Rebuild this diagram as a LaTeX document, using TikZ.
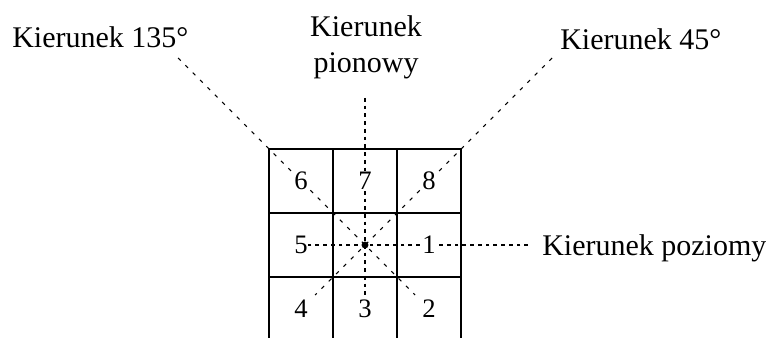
\documentclass[tikz,border=0pt]{standalone}
\usepackage{fontspec}
\setmainfont{Liberation Serif}
\usetikzlibrary{positioning}
\tikzset{
  % napisy i cyfry
  kier/.style={font=\fontsize{22.5}{27}\selectfont,inner sep=0pt,anchor=base west},
  cyfra/.style={font=\fontsize{20}{24}\selectfont,fill=white,inner sep=0.6pt},
  % linie
  kratka/.style={draw=black,line width=1pt},
  przer/.style={draw=black,line width=0.8pt,dash pattern=on 2.8pt off 3pt},
  skos/.style={draw=black,line width=0.8pt,dash pattern=on 2.8pt off 5pt},
}

\begin{document}
\begin{tikzpicture}[x=0.75pt,y=-0.75pt]
  \useasboundingbox (0,0) rectangle (766,338);
  \clip (0,0) rectangle (766,338);
  \coordinate (s) at (365,245);
  \node[kier] (k135) at (12,48) {Kierunek 135°};
  \node[kier] (k45) at (560,50) {Kierunek 45°};
  \node[kier,anchor=base,align=center] (kpion) at (366,73) {Kierunek\\pionowy};
  \node[kier] (kpoz) at (542,255) {Kierunek poziomy};
  \coordinate (g135) at (178,58);   \coordinate (d135) at (415,295);
  \coordinate (g45) at (552,58);    \coordinate (d45) at (315,295);
  \coordinate (gpion) at (365,98);  \coordinate (dpion) at (365,297);
  \coordinate (gpoz) at (528,245);  \coordinate (dpoz) at (303,245);
  \draw[skos] (g135) -- (s) -- (d135);
  \draw[skos] (g45) -- (s) -- (d45);
  \draw[przer] (gpion) -- (s) -- (dpion);
  \draw[przer] (gpoz) -- (s) -- (dpoz);
  \foreach \n/\x/\y in {1/429/245,2/429/309,3/365/309,4/301/309,
                        5/301/245,6/301/181,7/365/181,8/429/181}
    \node[cyfra] (c\n) at (\x,\y) {\n};
  \foreach \i in {0,...,3} {
    \draw[kratka] (269+64*\i,149) -- (269+64*\i,341);
    \draw[kratka] (269,149+64*\i) -- (461,149+64*\i);
  }
  \fill (s) circle (2.6pt);
\end{tikzpicture}
\end{document}
